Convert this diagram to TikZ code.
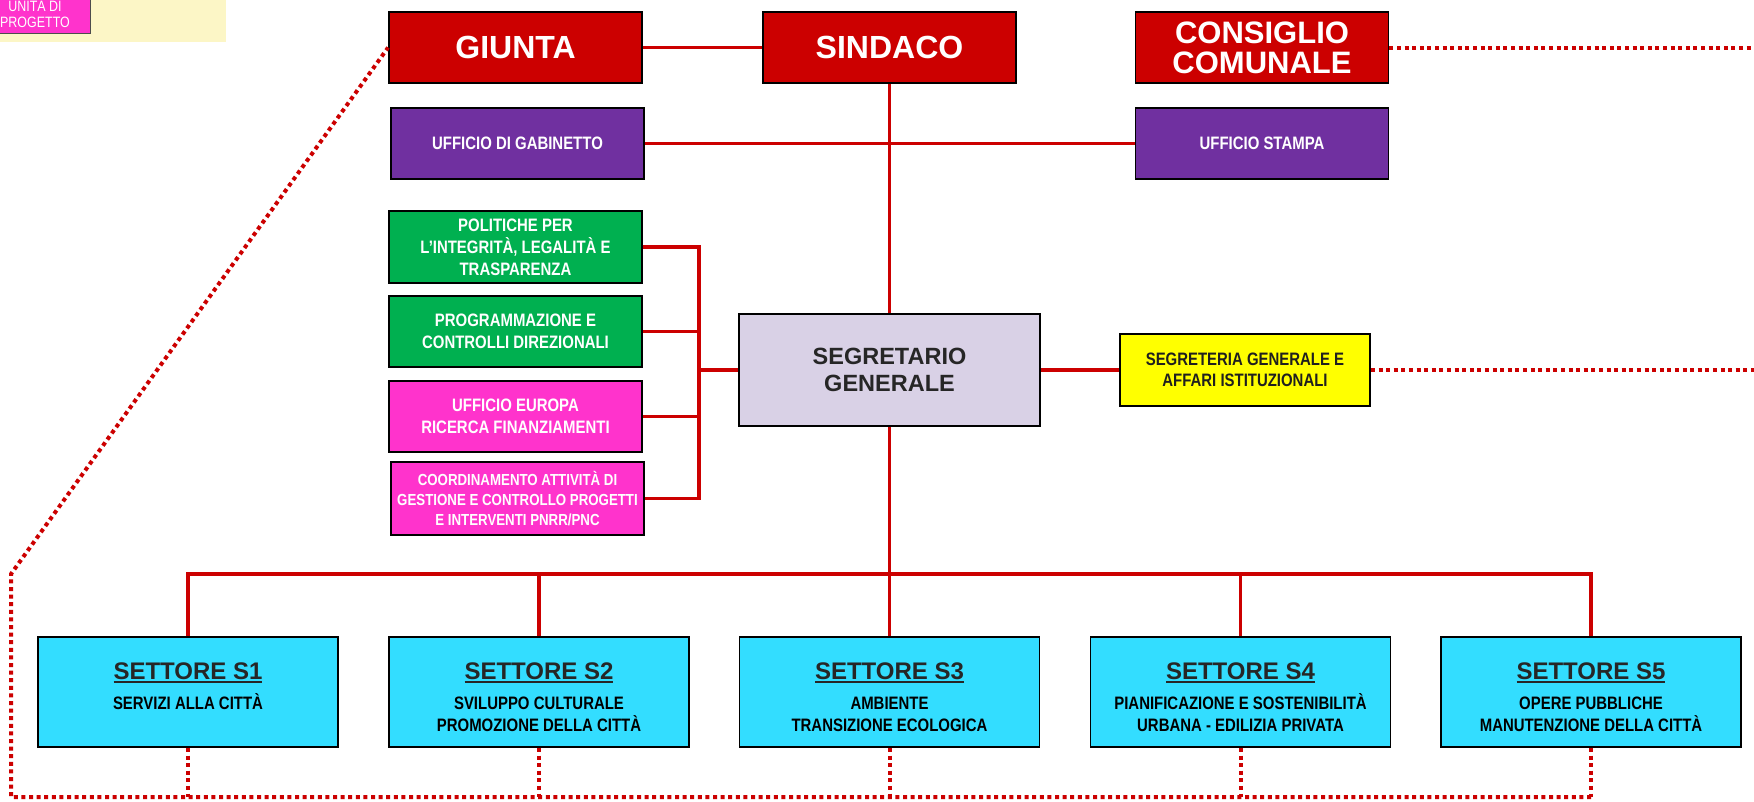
\documentclass[tikz,border=0pt]{standalone}
\usepackage{fontspec}
\setmainfont{Liberation Sans}
\newfontfamily\nar[FakeStretch=0.83]{Liberation Sans}
\definecolor{cred}{HTML}{CC0000}
\definecolor{cpurple}{HTML}{7030A0}
\definecolor{cgreen}{HTML}{00B050}
\definecolor{cpink}{HTML}{FF33CC}
\definecolor{ccyan}{HTML}{33DDFF}
\definecolor{cyellow}{HTML}{FFFF00}
\definecolor{clav}{HTML}{D9D1E6}
\definecolor{clegend}{HTML}{FCF6C6}
\definecolor{cdark}{HTML}{262626}
\newcommand\thul[1]{\leavevmode\vtop{\hbox{#1}\kern1.5pt\hrule height 2.6pt}}
\begin{document}
\begin{tikzpicture}[x=1pt,y=-1pt,
 box/.style={draw=black,line width=1.8pt,inner sep=0pt,align=center},
 redbox/.style={box,fill=cred,text=white,minimum width=253pt,minimum height=71pt,font=\fontsize{32}{30}\selectfont\bfseries},
 smallfont/.style={font=\nar\fontsize{18}{22}\selectfont\bfseries},
 purplebox/.style={box,fill=cpurple,text=white,minimum width=253pt,minimum height=71pt,smallfont},
 greenbox/.style={box,fill=cgreen,text=white,minimum width=253pt,minimum height=72pt,smallfont},
 pinkbox/.style={box,fill=cpink,text=white,minimum width=253pt,minimum height=71pt,smallfont},
 secbox/.style={box,fill=ccyan,minimum width=300pt,minimum height=110pt},
 sectitle/.style={inner sep=0pt,anchor=base,text=cdark,font=\fontsize{24}{28}\selectfont\bfseries},
 secline/.style={inner sep=0pt,anchor=base,text=black,smallfont},
 conn/.style={draw=cred,line width=3.5pt},
 dots/.style={draw=cred,line width=4pt,dash pattern=on 4pt off 3.6pt},
]
\fill[white] (0,0) rectangle (1754,801);
\useasboundingbox (0,0) rectangle (1754,801);

% legend
\fill[clegend] (0,0) rectangle (226,42);
\node[draw=gray!60!black,line width=1pt,fill=cpink,minimum width=150pt,minimum height=53pt,inner sep=0pt] (legbox) at (15,6.5) {};
\node[inner sep=0pt,anchor=base,text=white,font=\nar\fontsize{15}{17}\selectfont] (leg1) at (35,11) {UNITÀ DI};
\node[inner sep=0pt,anchor=base,text=white,font=\nar\fontsize{15}{17}\selectfont] (leg2) at (35,27.7) {PROGETTO};

% top row
\node[redbox] (giunta) at (515.5,47.5) {GIUNTA};
\node[redbox] (sindaco) at (889.5,47.5) {SINDACO};
\node[redbox,font=\fontsize{31}{30}\selectfont\bfseries] (consiglio) at (1262,47.5) {CONSIGLIO\\COMUNALE};

\node[purplebox] (gabinetto) at (517.5,143.5) {UFFICIO DI GABINETTO};
\node[purplebox] (stampa) at (1262,143.5) {UFFICIO STAMPA};

% staff boxes
\node[greenbox] (politiche) at (515.5,247) {POLITICHE PER\\L’INTEGRITÀ, LEGALITÀ E\\TRASPARENZA};
\node[greenbox,minimum height=71pt] (programmazione) at (515.5,331.5) {PROGRAMMAZIONE E\\CONTROLLI DIREZIONALI};
\node[pinkbox] (europa) at (515.5,416.5) {UFFICIO EUROPA\\RICERCA FINANZIAMENTI};
\node[pinkbox,minimum height=73pt,font=\nar\fontsize{16}{20}\selectfont\bfseries] (coordinamento) at (517.5,498.5) {COORDINAMENTO ATTIVITÀ DI\\GESTIONE E CONTROLLO PROGETTI\\E INTERVENTI PNRR/PNC};

\node[box,fill=clav,text=cdark,minimum width=301pt,minimum height=112pt,font=\fontsize{23.5}{27.3}\selectfont\bfseries] (segretario) at (889.5,370) {SEGRETARIO\\GENERALE};
\node[box,fill=cyellow,text=black!88,minimum width=250pt,minimum height=72pt,font=\nar\fontsize{18}{21}\selectfont\bfseries] (segreteria) at (1245,370) {SEGRETERIA GENERALE E\\AFFARI ISTITUZIONALI};

% settori
\node[secbox] (s1) at (188,692) {};
\node[secbox] (s2) at (539,692) {};
\node[secbox] (s3) at (889.5,692) {};
\node[secbox] (s4) at (1240.5,692) {};
\node[secbox] (s5) at (1591,692) {};

\node[sectitle] (s1t) at (188,679) {\thul{SETTORE S1}};
\node[secline] (s1a) at (188,709) {SERVIZI ALLA CITTÀ};
\node[sectitle] (s2t) at (539,679) {\thul{SETTORE S2}};
\node[secline] (s2a) at (539,709) {SVILUPPO CULTURALE};
\node[secline] (s2b) at (539,731) {PROMOZIONE DELLA CITTÀ};
\node[sectitle] (s3t) at (889.5,679) {\thul{SETTORE S3}};
\node[secline] (s3a) at (889.5,709) {AMBIENTE};
\node[secline] (s3b) at (889.5,731) {TRANSIZIONE ECOLOGICA};
\node[sectitle] (s4t) at (1240.5,679) {\thul{SETTORE S4}};
\node[secline] (s4a) at (1240.5,709) {PIANIFICAZIONE E SOSTENIBILITÀ};
\node[secline] (s4b) at (1240.5,731) {URBANA - EDILIZIA PRIVATA};
\node[sectitle] (s5t) at (1591,679) {\thul{SETTORE S5}};
\node[secline] (s5a) at (1591,709) {OPERE PUBBLICHE};
\node[secline] (s5b) at (1591,731) {MANUTENZIONE DELLA CITTÀ};

% helper coordinates
\coordinate (bx) at (699,0);
\coordinate (bus) at (0,574);
\coordinate (bot) at (0,797);
\coordinate (redge) at (1754,0);
\coordinate (lb) at (11,797);
\coordinate (lt) at (11,574);

% solid connectors
\draw[conn] (giunta.east) -- (sindaco.west);
\draw[conn] (sindaco.south) -- (segretario.north);
\draw[conn] (gabinetto.east) -- (stampa.west);
\draw[conn] (politiche.east) -- (politiche.east -| bx) -- (coordinamento.east -| bx) -- (coordinamento.east);
\draw[conn] (programmazione.east) -- (programmazione.east -| bx);
\draw[conn] (europa.east) -- (europa.east -| bx);
\draw[conn] (segretario.west) -- (segretario.west -| bx);
\draw[conn] (segretario.east) -- (segreteria.west);
\draw[conn] (segretario.south) -- (s3.north);
\draw[conn] (s1.north) -- (s1.north |- bus) -- (s5.north |- bus) -- (s5.north);
\draw[conn] (s2.north) -- (s2.north |- bus);
\draw[conn] (s4.north) -- (s4.north |- bus);

% dotted connectors
\draw[dots] (consiglio.east) -- (consiglio.east -| redge);
\draw[dots] (segreteria.east) -- (segreteria.east -| redge);
\draw[dots] (s1.south) -- (s1.south |- bot);
\draw[dots] (s2.south) -- (s2.south |- bot);
\draw[dots] (s3.south) -- (s3.south |- bot);
\draw[dots] (s4.south) -- (s4.south |- bot);
\draw[dots] (s5.south) -- (s5.south |- bot);
\draw[dots] (s5.south |- bot) -- (lb) -- (lt) -- (giunta.west);
\end{tikzpicture}
\end{document}
